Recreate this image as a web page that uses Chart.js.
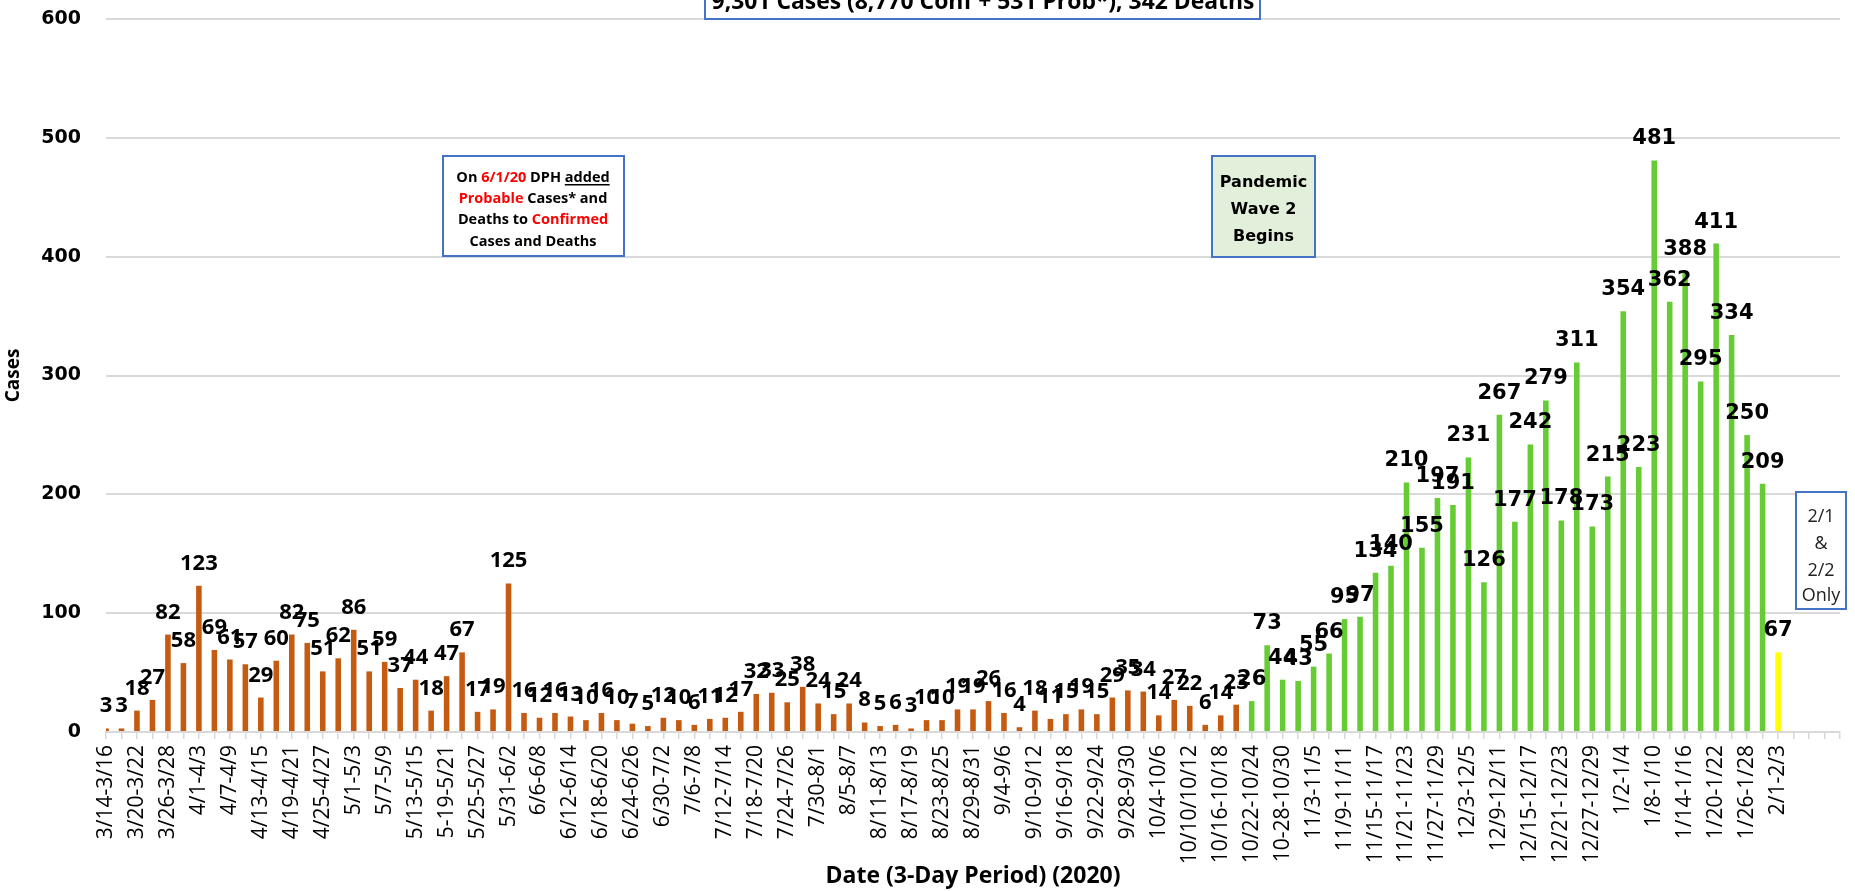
<!DOCTYPE html>
<html>
<head>
<meta charset="utf-8">
<script src="https://cdn.jsdelivr.net/npm/chart.js@4.4.0/dist/chart.umd.min.js"></script>
<style>
  html, body { margin: 0; padding: 0; background: #fff; }
</style>
</head>
<body>
<canvas id="chart1" width="1855" height="891"></canvas>
<script>
// 3-day periods (labels as printed on the original axis, typos kept)
const periods = [
  '3/14-3/16','3/17-3/19','3/20-3/22','3/23-3/25','3/26-3/28','3/29-3/31',
  '4/1-4/3','4/4-4/6','4/7-4/9','4/10-4/12','4/13-4/15','4/16-4/18',
  '4/19-4/21','4/22-4/24','4/25-4/27','4/28-4/30','5/1-5/3','5/4-5/6',
  '5/7-5/9','5/10-5/12','5/13-5/15','5/16-5/18','5-19-5/21','5/22-5/24',
  '5/25-5/27','5/28-5/30','5/31-6/2','6/3-6/5','6/6-6/8','6/9-6/11',
  '6/12-6/14','6/15-6/17','6/18-6/20','6/21-6/23','6/24-6/26','6/27-6/29',
  '6/30-7/2','7/3-7/5','7/6-7/8','7/9-7/11','7/12-7/14','7/15-7/17',
  '7/18-7/20','7/21-7/23','7/24-7/26','7/27-7/29','7/30-8/1','8/2-8/4',
  '8/5-8/7','8/8-8/10','8/11-8/13','8/14-8/16','8/17-8/19','8/20-8/22',
  '8/23-8/25','8/26-8/28','8/29-8/31','9/1-9/3','9/4-9/6','9/7-9/9',
  '9/10-9/12','9/13-9/15','9/16-9/18','9/19-9/21','9/22-9/24','9/25-9/27',
  '9/28-9/30','10/1-10/3','10/4-10/6','10/7-10/9','10/10/10/12','10/13-10/15',
  '10/16-10/18','10/19-10/21','10/22-10/24','10/25-10/27','10-28-10/30','10/31-11/2',
  '11/3-11/5','11/6-11/8','11/9-11/11','11/12-11/14','11/15-11/17','11/18-11/20',
  '11/21-11/23','11/24-11/26','11/27-11/29','11/30-12/2','12/3-12/5','12/6-12/8',
  '12/9-12/11','12/12-12/14','12/15-12/17','12/18-12/20','12/21-12/23','12/24-12/26',
  '12/27-12/29','12/30-1/1','1/2-1/4','1/5-1/7','1/8-1/10','1/11-1/13',
  '1/14-1/16','1/17-1/19','1/20-1/22','1/23-1/25','1/26-1/28','1/29-1/31',
  '2/1-2/3'
];

// cases per period
const cases = [
  3, 3, 18, 27, 82, 58, 123, 69, 61, 57, 29, 60,
  82, 75, 51, 62, 86, 51, 59, 37, 44, 18, 47, 67,
  17, 19, 125, 16, 12, 16, 13, 10, 16, 10, 7, 5,
  12, 10, 6, 11, 12, 17, 32, 33, 25, 38, 24, 15,
  24, 8, 5, 6, 3, 10, 10, 19, 19, 26, 16, 4,
  18, 11, 15, 19, 15, 29, 35, 34, 14, 27, 22, 6,
  14, 23, 26, 73, 44, 43, 55, 66, 95, 97, 134, 140,
  210, 155, 197, 191, 231, 126, 267, 177, 242, 279, 178, 311,
  173, 215, 354, 223, 481, 362, 388, 295, 411, 334, 250, 209,
  67
];

// empty slots left at the end of the axis
const emptySlots = ['', '', '', ''];

const yTicks = [0, 100, 200, 300, 400, 500, 600];

const headline = '9,301 Cases (8,770 Conf + 531 Prob*), 342 Deaths';
const wave2Start = '10/22-10/24';
const partialPeriod = '2/1-2/3';

const wave2Index = periods.indexOf(wave2Start);
const partialIndex = periods.indexOf(partialPeriod);

function barColor(i) {
  if (i === partialIndex) return '#FFFF00';
  if (i >= wave2Index) return '#66CC33';
  return '#C55A11';
}

// valeurs au-dessus des barres
const barLabels = {
  id: 'barLabels',
  afterDatasetsDraw(chart) {
    const ctx = chart.ctx;
    const meta = chart.getDatasetMeta(0);
    ctx.save();
    ctx.textAlign = 'center';
    ctx.textBaseline = 'alphabetic';
    ctx.fillStyle = '#000';
    meta.data.forEach((bar, i) => {
      if (cases[i] == null) return;
      ctx.font = i < wave2Index ? 'bold 22px "Open Sans"' : 'bold 21px "DejaVu Sans"';
      ctx.fillText(String(cases[i]), bar.x, bar.y - 16);
    });
    ctx.restore();
  }
};

function box(ctx, x, y, w, h, fill) {
  ctx.fillStyle = fill;
  ctx.fillRect(x, y, w, h);
  ctx.strokeStyle = '#4472C4';
  ctx.lineWidth = 2;
  ctx.strokeRect(x, y, w, h);
}

// draws one line made of coloured pieces, centred on cx
function richLine(ctx, parts, cx, y) {
  let total = 0;
  parts.forEach(p => total += ctx.measureText(p[0]).width);
  let x = cx - total / 2;
  parts.forEach(p => {
    const w = ctx.measureText(p[0]).width;
    ctx.fillStyle = p[1];
    ctx.fillText(p[0], x, y);
    if (p[2]) {
      ctx.fillRect(x, y + 2, w, 1.5);
    }
    x += w;
  });
}

// les encadrés de texte
const notes = {
  id: 'notes',
  afterDraw(chart) {
    const ctx = chart.ctx;
    ctx.save();

    // headline box, cut by the top of the picture
    box(ctx, 705, -40, 555, 59, '#fff');
    ctx.font = 'bold 20px "Open Sans"';
    const wHead = ctx.measureText(headline).width;
    const size = 20 * 544 / wHead;
    ctx.font = 'bold ' + size.toFixed(1) + 'px "Open Sans"';
    ctx.fillStyle = '#000';
    ctx.textAlign = 'center';
    ctx.textBaseline = 'alphabetic';
    ctx.fillText(headline, 983, 9);

    // DPH note
    box(ctx, 443, 156, 181, 100, '#fff');
    ctx.font = 'bold 14.5px "Open Sans"';
    ctx.textAlign = 'left';
    const red = '#FF0000', blk = '#000';
    richLine(ctx, [['On ', blk], ['6/1/20', red], [' DPH ', blk], ['added', blk, true]], 533, 182);
    richLine(ctx, [['Probable', red], [' Cases* and', blk]], 533, 203);
    richLine(ctx, [['Deaths to ', blk], ['Confirmed', red]], 533, 224);
    richLine(ctx, [['Cases and Deaths', blk]], 533, 246);

    // wave 2
    box(ctx, 1212, 156, 103, 101, '#E2EFDA');
    ctx.font = 'bold 16px "DejaVu Sans"';
    ctx.textAlign = 'center';
    ctx.textBaseline = 'middle';
    ctx.fillStyle = '#000';
    ctx.fillText('Pandemic', 1263.5, 183);
    ctx.fillText('Wave 2', 1263.5, 210);
    ctx.fillText('Begins', 1263.5, 237);

    // partial period
    box(ctx, 1796, 492, 50, 117, '#fff');
    ctx.font = '18px "Open Sans"';
    ctx.fillStyle = '#222';
    ctx.fillText('2/1', 1821, 517);
    ctx.fillText('&', 1821, 544);
    ctx.fillText('2/2', 1821, 571);
    ctx.fillText('Only', 1821, 596);

    ctx.restore();
  }
};

const ctx1 = document.getElementById('chart1').getContext('2d');
const myChart = new Chart(ctx1, {
  type: 'bar',
  data: {
    labels: periods.concat(emptySlots),
    datasets: [{
      label: 'Cases',
      data: cases,
      backgroundColor: cases.map((v, i) => barColor(i)),
      categoryPercentage: 1,
      barPercentage: 0.36
    }]
  },
  options: {
    responsive: false,
    animation: false,
    devicePixelRatio: 1,
    layout: { padding: { top: 19, right: 15, bottom: 0, left: 0 } },
    plugins: {
      legend: { display: false },
      tooltip: { enabled: false }
    },
    scales: {
      x: {
        offset: false,
        grid: {
          offset: false,
          drawOnChartArea: false,
          drawTicks: true,
          tickLength: 7,
          color: '#D9D9D9',
          lineWidth: 1.5
        },
        border: { display: true, color: '#D9D9D9', width: 2 },
        ticks: {
          autoSkip: false,
          minRotation: 90,
          maxRotation: 90,
          padding: 6,
          color: '#000',
          font: { family: 'Open Sans', size: 21 },
          callback: function (val, i) {
            return i % 2 === 0 ? this.getLabelForValue(val) : '';
          }
        },
        title: {
          display: true,
          text: 'Date (3-Day Period) (2020)',
          color: '#000',
          font: { family: 'Open Sans', size: 23, weight: 'bold' },
          padding: { top: 0, bottom: 1 }
        },
        afterFit: (scale) => {
          scale.height = 159;
          scale.paddingLeft = 0;
          scale.paddingRight = 0;
        }
      },
      y: {
        min: yTicks[0],
        max: yTicks[yTicks.length - 1],
        afterBuildTicks: (scale) => { scale.ticks = yTicks.map(v => ({ value: v })); },
        grid: { color: '#D9D9D9', lineWidth: 2, drawTicks: false },
        border: { display: false },
        ticks: {
          padding: 25,
          color: '#000',
          font: { family: 'DejaVu Sans', size: 19, weight: 'bold' }
        },
        title: {
          display: true,
          text: 'Cases',
          color: '#000',
          font: { family: 'Open Sans', size: 19, weight: 'bold' },
          padding: { top: 2, bottom: 0 }
        },
        afterFit: (scale) => {
          scale.width = 106;
          scale.paddingTop = 0;
          scale.paddingBottom = 0;
        }
      }
    }
  },
  plugins: [barLabels, notes]
});
</script>
</body>
</html>
